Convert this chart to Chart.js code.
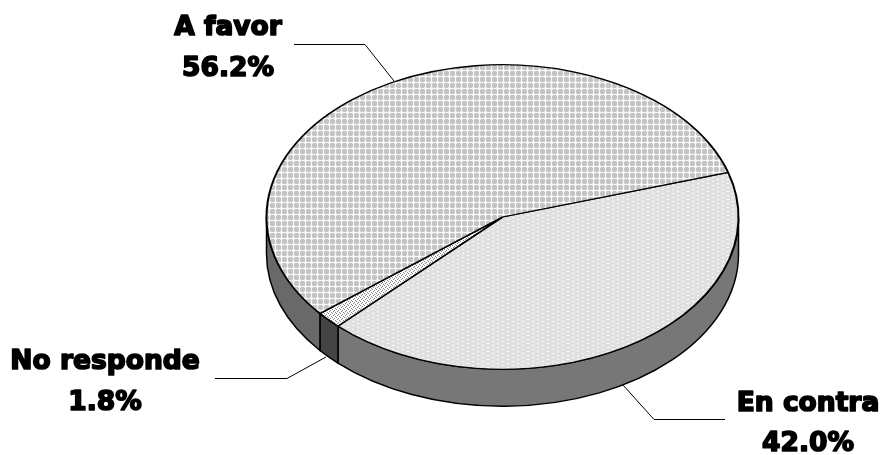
<!DOCTYPE html>
<html>
<head>
<meta charset="utf-8">
<script src="https://cdn.jsdelivr.net/npm/chart.js@4"></script>
<style>
  html, body { margin: 0; padding: 0; background: #fff; }
  canvas { display: block; }
</style>
</head>
<body>
<canvas id="myChart" width="885" height="455"></canvas>
<script>
const categories = ['En contra', 'No responde', 'A favor'];
const values = [42.0, 1.8, 56.2];

const squash = 140 / 217; // tilt of the pie, picked so the fill patterns land on whole pixels
const depth = 37;

function makePattern(ctx, rows, colors) {
	const c = document.createElement('canvas');
	c.width = rows[0].length;
	c.height = rows.length;
	const p = c.getContext('2d');
	rows.forEach((row, y) => {
		[...row].forEach((ch, x) => {
			p.fillStyle = colors[ch];
			p.fillRect(x, y, 1, 1);
		});
	});
	const pattern = ctx.createPattern(c, 'repeat');
	pattern.setTransform(new DOMMatrix([1, 0, 0, 1 / squash, 0, 0]));
	return pattern;
}

const ctx = document.getElementById('myChart').getContext('2d');
ctx.imageSmoothingEnabled = false;

const favorFill = makePattern(ctx, [
	'+###+.',
	'#####.',
	'#####.',
	'#####.',
	'+###+.',
	'......'
], { '#': '#c4c4c4', '+': '#e2e2e2', '.': '#fbfbfb' });

const contraFill = makePattern(ctx, [
	'##..######',
	'##########',
	'#######..#',
	'##########'
], { '#': '#e0e0e0', '.': '#fbfbfb' });

const noRespFill = makePattern(ctx, [
	'#...',
	'..#.',
	'.#..',
	'...#'
], { '#': '#8a8a8a', '.': '#fafafa' });

const sideColors = ['#777777', '#444444', '#696969'];

// side wall of the pie and the squashed top face
const tiltPlugin = {
	id: 'tilt',
	beforeDatasetsDraw(chart) {
		const c = chart.ctx;
		const arcs = chart.getDatasetMeta(0).data;
		const cx = arcs[0].x, cy = arcs[0].y;
		const rx = arcs[0].outerRadius, ry = rx * squash;
		c.save();
		c.lineWidth = 1.5;
		c.strokeStyle = '#000';
		arcs.forEach((arc, i) => {
			const lo = Math.max(arc.startAngle, 0);
			const hi = Math.min(arc.endAngle, Math.PI);
			if (hi <= lo) return;
			c.beginPath();
			c.ellipse(cx, cy, rx, ry, 0, lo, hi);
			c.ellipse(cx, cy + depth, rx, ry, 0, hi, lo, true);
			c.closePath();
			c.fillStyle = sideColors[i];
			c.fill();
			c.stroke();
		});
		c.restore();
		c.save();
		c.translate(cx, cy);
		c.scale(1, squash);
		c.translate(-cx, -cy);
	},
	afterDatasetsDraw(chart) {
		chart.ctx.restore();
	}
};

const labelPlugin = {
	id: 'pieLabels',
	afterDraw(chart) {
		const c = chart.ctx;
		c.save();
		c.strokeStyle = '#000';
		c.lineWidth = 1;
		[
			[[294, 44.5], [365, 44.5], [394, 81]],
			[[215, 378.5], [287, 378.5], [326, 357]],
			[[725, 419.5], [654, 419.5], [623, 385]]
		].forEach(line => {
			c.beginPath();
			line.forEach((p, i) => i ? c.lineTo(p[0], p[1]) : c.moveTo(p[0], p[1]));
			c.stroke();
		});
		c.fillStyle = '#000';
		c.strokeStyle = '#000';
		c.lineWidth = 1.7;
		c.lineJoin = 'round';
		c.textAlign = 'center';
		c.textBaseline = 'alphabetic';
		c.font = 'bold 26.5px "DejaVu Sans", sans-serif';
		const spots = { 'A favor': [228, 35, 76], 'No responde': [105, 369, 410], 'En contra': [808, 411, 451] };
		categories.forEach((name, i) => {
			const s = spots[name];
			const pct = values[i].toFixed(1) + '%';
			c.fillText(name, s[0], s[1]);
			c.strokeText(name, s[0], s[1]);
			c.fillText(pct, s[0], s[2]);
			c.strokeText(pct, s[0], s[2]);
		});
		c.restore();
	}
};

new Chart(ctx, {
	type: 'pie',
	data: {
		labels: categories,
		datasets: [{
			data: values,
			backgroundColor: [contraFill, noRespFill, favorFill],
			borderColor: '#000',
			borderWidth: 2,
			radius: 236,
			clip: false
		}]
	},
	options: {
		responsive: false,
		animation: false,
		rotation: 73,
		layout: { padding: { left: 120, right: 0, top: 0, bottom: 21 } },
		plugins: {
			legend: { display: false },
			tooltip: { enabled: false }
		}
	},
	plugins: [tiltPlugin, labelPlugin]
});
</script>
</body>
</html>
